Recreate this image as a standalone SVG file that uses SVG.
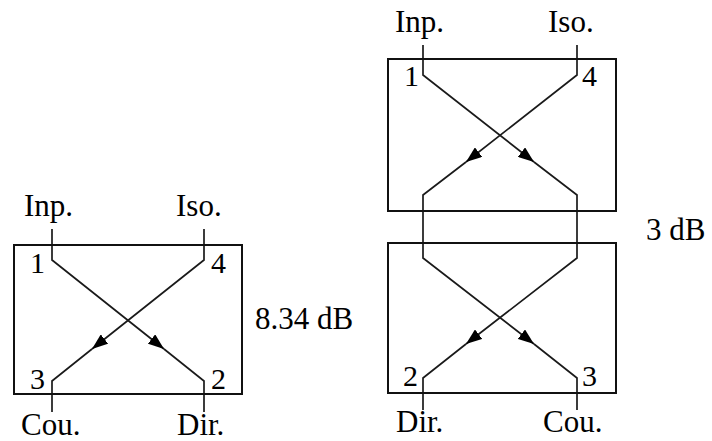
<svg xmlns="http://www.w3.org/2000/svg" width="712" height="441" viewBox="0 0 712 441">
<style>
.box{fill:none;stroke:#111;stroke-width:2}
.ln{fill:none;stroke:#1a1a1a;stroke-width:1.7;stroke-linejoin:miter}
.t{font-family:"Liberation Serif","Times New Roman",serif;font-size:31px;fill:#000}
.n{font-family:"Liberation Serif","Times New Roman",serif;font-size:30px;fill:#000}
</style>
<defs>
<marker id="ah" viewBox="-16 -6 16 12" markerWidth="16" markerHeight="12" refX="0" refY="0" orient="auto" markerUnits="userSpaceOnUse">
<path d="M0,0 L-16,-6 L-16,6 z" fill="#000"/>
</marker>
</defs>
<rect width="712" height="441" fill="#fff"/>
<g id="connectors">
<path class="ln" d="M52,229 V260 L164,349" marker-end="url(#ah)"/>
<path class="ln" d="M164,349 L204,381 V412"/>
<path class="ln" d="M204,229 V260 L92,349" marker-end="url(#ah)"/>
<path class="ln" d="M92,349 L52,381 V412"/>
<path class="ln" d="M423,45 V75 L534,162" marker-end="url(#ah)"/>
<path class="ln" d="M534,162 L577,195 V258 L466,344" marker-end="url(#ah)"/>
<path class="ln" d="M466,344 L423,378 V410"/>
<path class="ln" d="M577,45 V75 L466,162" marker-end="url(#ah)"/>
<path class="ln" d="M466,162 L423,195 V258 L534,344" marker-end="url(#ah)"/>
<path class="ln" d="M534,344 L577,378 V410"/>
</g>
<g id="coupler-8dB">
<rect class="box" x="14" y="245" width="228" height="149"/>
<text class="t" x="24" y="216">Inp.</text>
<text class="t" x="176" y="216">Iso.</text>
<text class="n" x="30" y="273">1</text>
<text class="n" x="211" y="273">4</text>
<text class="n" x="30" y="389">3</text>
<text class="n" x="211" y="389">2</text>
<text class="t" x="21" y="435">Cou.</text>
<text class="t" x="177" y="435">Dir.</text>
<text class="t" x="255" y="329">8.34 dB</text>
</g>
<g id="coupler-3dB-top">
<rect class="box" x="388" y="59" width="228" height="152"/>
<text class="t" x="395" y="32">Inp.</text>
<text class="t" x="548" y="32">Iso.</text>
<text class="n" x="404" y="86">1</text>
<text class="n" x="582" y="86">4</text>
</g>
<g id="coupler-3dB-bottom">
<rect class="box" x="388" y="243" width="228" height="150"/>
<text class="n" x="403" y="386">2</text>
<text class="n" x="582" y="386">3</text>
<text class="t" x="396" y="432">Dir.</text>
<text class="t" x="543" y="432">Cou.</text>
</g>
<text class="t" x="646" y="240">3 dB</text>
</svg>
